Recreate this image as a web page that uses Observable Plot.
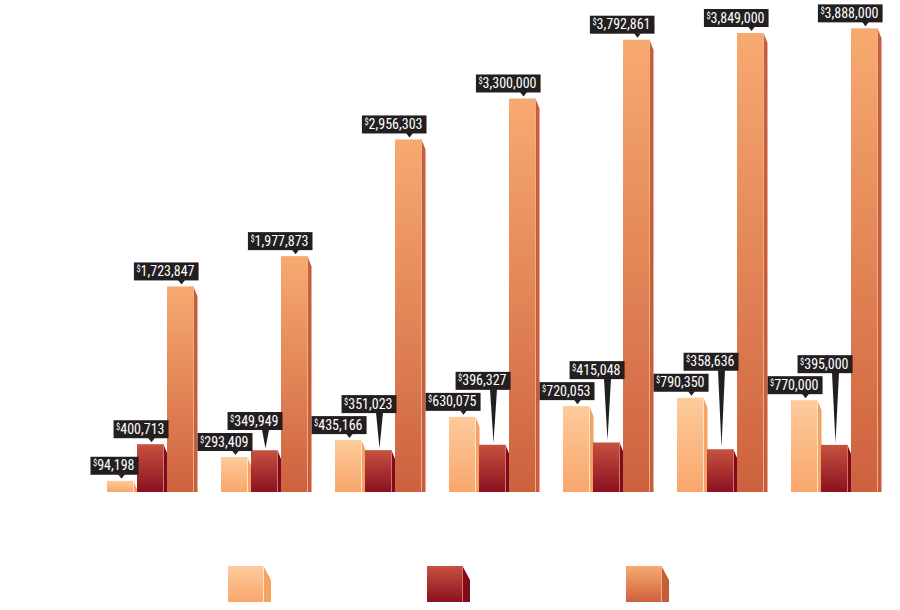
<!DOCTYPE html>
<html><head><meta charset="utf-8">
<script src="https://cdn.jsdelivr.net/npm/d3@7"></script>
<script src="https://cdn.jsdelivr.net/npm/@observablehq/plot@0.6"></script>
<style>
body{margin:0;background:#fff}
svg{display:block}
#err{position:absolute;left:5px;top:5px;font:11px monospace;color:#c00;white-space:pre}
</style>
</head><body><div id="chart"></div><div id="err"></div>
<script>
window.onerror = (m, s, l) => { document.getElementById("err").textContent += m + " @" + l + "\n"; };
// ---- data ----
const groups = ["Group 1", "Group 2", "Group 3", "Group 4", "Group 5", "Group 6", "Group 7"];
const series = ["Series A", "Series B", "Series C"];
const seriesA = [94198, 293409, 435166, 630075, 720053, 790350, 770000];
const seriesB = [400713, 349949, 351023, 396327, 415048, 358636, 395000];
const seriesC = [1723847, 1977873, 2956303, 3300000, 3792861, 3849000, 3888000];

// ---- styles ----
const frontTop = ["#fdcb9c", "#c6523f", "#f7aa70"];
const frontBottom = ["#f8a66b", "#8c1020", "#cd613e"];
const sideColor = ["#f3a263", "#7f0c1a", "#c65d3b"];
const edgeColor = ["#fee2ca", "#d47270", "#f1ad8a"];
const labelFont = "'Liberation Sans Narrow','Roboto Condensed','DejaVu Sans Condensed','Arial Narrow',sans-serif";

const values = [seriesA, seriesB, seriesC];
const rows = groups.flatMap((g, gi) => series.map((s, si) => ({group: g, gi, series: s, si, value: values[si][gi]})));

function addGradients(svg, prefix) {
  const defs = d3.select(svg).append("defs");
  series.forEach((s, si) => {
    const lg = defs.append("linearGradient").attr("id", prefix + si)
      .attr("x1", 0).attr("y1", 0).attr("x2", 0).attr("y2", 1);
    lg.append("stop").attr("offset", "0%").attr("stop-color", frontTop[si]);
    lg.append("stop").attr("offset", "100%").attr("stop-color", frontBottom[si]);
  });
}

const SVGNS = "http://www.w3.org/2000/svg";
const frontRects = (svg, prefix, si) => Array.from(svg.querySelectorAll(`g[fill="url(#${prefix}${si})"] rect`));

function shapeBars(svg, prefix, w, drop) {
  series.forEach((s, si) => {
    frontRects(svg, prefix, si).forEach(function (el) {
      const x = +el.getAttribute("x"), y = +el.getAttribute("y");
      const wd = +el.getAttribute("width"), h = +el.getAttribute("height");
      const x2 = x + wd, b = y + h, dd = Math.min(drop, h);
      const p = document.createElementNS(SVGNS, "path");
      p.setAttribute("d", `M${x2 - 0.5},${y}L${x2 + w},${y + dd}L${x2 + w},${b}L${x2 - 0.5},${b}Z`);
      p.setAttribute("fill", sideColor[si]);
      el.parentNode.insertBefore(p, el);
      const l = document.createElementNS(SVGNS, "path");
      l.setAttribute("d", `M${x2 - 0.5},${y}V${b}`);
      l.setAttribute("stroke", edgeColor[si]);
      l.setAttribute("stroke-width", 1);
      l.setAttribute("fill", "none");
      el.parentNode.appendChild(l);
    });
  });
}

const barMarks = (facet, data, yField, inset) => series.map((s, si) =>
  Plot.barY(data, {filter: d => d.si === si, fx: facet ? "group" : undefined, x: "series", y: yField,
    insetRight: inset, fill: `url(#${facet ? "m" : "lg"}grad${si})`})
);

const main = Plot.plot({
  width: 900, height: 540,
  marginLeft: 106, marginRight: 19, marginTop: 15, marginBottom: 48,
  style: {background: "#fff"},
  fx: {domain: groups, paddingInner: 0.2018, paddingOuter: 0, axis: null, label: null},
  x: {domain: series, paddingInner: 0.05, paddingOuter: 0, axis: null},
  y: {domain: [0, 4000000], axis: null},
  marks: barMarks(true, rows, "value", 2)
});

const legendRows = series.map((s, si) => ({series: s, si, v: 1}));
const legend = Plot.plot({
  width: 900, height: 70,
  marginLeft: 227, marginRight: 237, marginTop: 26, marginBottom: 8,
  style: {background: "#fff"},
  x: {domain: series, paddingInner: 0.82, paddingOuter: 0, axis: null},
  y: {domain: [0, 1], axis: null},
  marks: barMarks(false, legendRows, "v", 0)
});

const chart = document.getElementById("chart");
chart.appendChild(main);
chart.appendChild(legend);

addGradients(main, "mgrad");
addGradients(legend, "lggrad");
shapeBars(main, "mgrad", 3.5, 10);
shapeBars(legend, "lggrad", 7, 14);

// ---- value labels (callouts) ----
const fmt = d3.format(",");
const info = groups.map(() => []);
const svgBox = main.getBoundingClientRect();
series.forEach((s, si) => {
  const rs = frontRects(main, "mgrad", si).map(el => {
    const b = el.getBoundingClientRect();
    return {cx: b.left - svgBox.left + (b.width + 2) / 2, top: b.top - svgBox.top};
  });
  rs.sort((a, b) => a.cx - b.cx);
  rs.forEach((r, gi) => { info[gi][si] = {...r, value: values[si][gi]}; });
});
const lg = d3.select(main).append("g").attr("aria-label", "value labels");
info.forEach(arr => {
  arr.forEach((d, si) => {
    if (!d) return;
    const boxBottom = si === 1 && arr[0] ? Math.min(d.top - 6, arr[0].top - 27) : d.top - 6;
    const tip = d.top - 2;
    const grp = lg.append("g");
    grp.append("path")
      .attr("d", `M${d.cx - 3.5},${boxBottom - 0.5}L${d.cx + 3.5},${boxBottom - 0.5}L${d.cx},${tip}Z`)
      .attr("fill", "#231f20");
    const rect = grp.append("rect").attr("fill", "#231f20");
    const t = grp.append("text")
      .attr("x", d.cx + 13).attr("y", boxBottom - 4.5)
      .attr("text-anchor", "end").attr("fill", "#fff")
      .style("font-family", labelFont).style("font-size", "14px");
    t.append("tspan").style("font-size", "8.5px").attr("dy", -4).text("$");
    t.append("tspan").attr("dy", 4).text(fmt(d.value));
    const bb = t.node().getBBox();
    rect.attr("x", bb.x - 2.5).attr("width", bb.width + 6.5)
      .attr("y", boxBottom - 18).attr("height", 18);
  });
});
</script>
</body></html>
